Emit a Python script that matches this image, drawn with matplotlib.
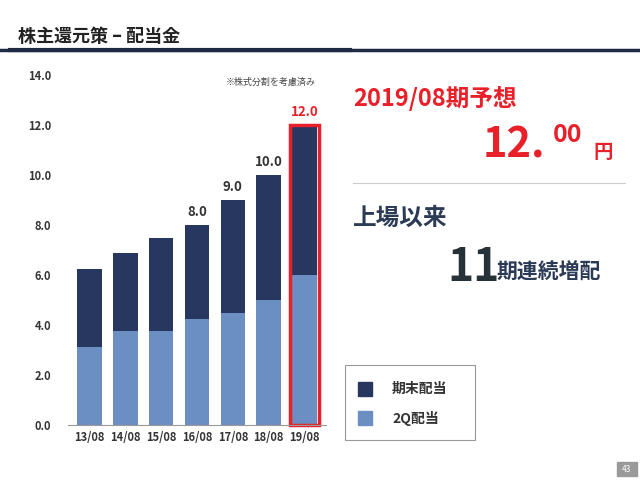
import matplotlib
matplotlib.use("Agg")
import matplotlib.pyplot as plt
from matplotlib.patches import Rectangle

plt.rcParams['font.family'] = ['Noto Sans CJK JP']

categories = ["13/08", "14/08", "15/08", "16/08", "17/08", "18/08", "19/08"]
q2 = [3.125, 3.75, 3.75, 4.25, 4.5, 5.0, 6.0]
total = [6.25, 6.875, 7.5, 8.0, 9.0, 10.0, 12.0]
year_end = [t - a for t, a in zip(total, q2)]
labels = {3: "8.0", 4: "9.0", 5: "10.0", 6: "12.0"}
yticks = [0, 2, 4, 6, 8, 10, 12, 14]

dark = "#283760"
light = "#6C8FC3"
red = "#E8202A"

fig = plt.figure(figsize=(6.4, 4.8), dpi=100)
W, H = 640, 480
def fx(x): return x / W
def fy(y): return 1 - y / H

fig.text(fx(18), fy(36), "株主還元策 – 配当金", fontsize=13, fontweight='bold', color="#222", va='center')
fig.add_artist(plt.Line2D([fx(0), fx(640)], [fy(50), fy(50)], color="#1f2a44", lw=2.5))
fig.add_artist(plt.Line2D([fx(10), fx(350)], [fy(50), fy(50)], color="#1f2a44", lw=3))

ax = fig.add_axes([fx(68), fy(425), fx(258), (425 - 75) / H])
x = range(len(categories))
ax.bar(x, q2, width=0.68, color=light)
ax.bar(x, year_end, bottom=q2, width=0.68, color=dark)
for i, t in labels.items():
    ax.text(i, total[i] + 0.25, t, ha='center', va='bottom', fontsize=9.5, fontweight='bold',
            color=red if i == 6 else "#333")
ax.add_patch(Rectangle((6 - 0.4, 0), 0.8, 12.0, fill=False, ec=red, lw=2.5, clip_on=False))
ax.set_ylim(0, 14)
ax.set_xlim(-0.6, 6.6)
ax.set_yticks(yticks)
ax.set_yticklabels([f"{v:.1f}" for v in yticks], fontsize=8, fontweight='bold', color="#333")
ax.set_xticks(list(x))
ax.set_xticklabels(categories, fontsize=8, fontweight='bold', color="#333")
ax.tick_params(length=0, pad=12)
ax.tick_params(axis='x', pad=4)
for s in ['top', 'right', 'left']:
    ax.spines[s].set_visible(False)
ax.spines['bottom'].set_color("#999")
ax.text(6.3, 13.7, "※株式分割を考慮済み", ha='right', va='center', fontsize=6.5, color="#444")

# legend box
fig.add_artist(Rectangle((fx(345), fy(440)), fx(130), (440 - 365) / H, fill=False, ec="#999", lw=0.8))
fig.add_artist(Rectangle((fx(358), fy(396)), fx(14), 14 / H, color=dark))
fig.text(fx(392), fy(389), "期末配当", fontsize=10, fontweight='bold', color="#333", va='center')
fig.add_artist(Rectangle((fx(358), fy(425)), fx(14), 14 / H, color=light))
fig.text(fx(392), fy(418), "2Q配当", fontsize=10, fontweight='bold', color="#333", va='center')

fig.text(fx(353), fy(98), "2019/08期予想", fontsize=17, fontweight='bold', color=red, va='center')
fig.text(fx(483), fy(146), "12.", fontsize=30, fontweight='bold', color=red, va='center')
fig.text(fx(553), fy(135), "00", fontsize=18, fontweight='bold', color=red, va='center')
fig.text(fx(593), fy(152), "円", fontsize=14, fontweight='bold', color=red, va='center')
fig.add_artist(plt.Line2D([fx(353), fx(625)], [fy(183), fy(183)], color="#ccc", lw=0.8))
fig.text(fx(353), fy(218), "上場以来", fontsize=17, fontweight='bold', color="#2b3a55", va='center')
fig.text(fx(447), fy(268), "11", fontsize=32, fontweight='bold', color="#263238", va='center')
fig.text(fx(497), fy(272), "期連続増配", fontsize=15, fontweight='bold', color="#2b3a55", va='center')

fig.add_artist(Rectangle((fx(617), fy(476)), fx(20), 14 / H, color="#999"))
fig.text(fx(627), fy(469), "43", fontsize=6, color="white", ha='center', va='center')

fig.savefig("out.png", dpi=100)
